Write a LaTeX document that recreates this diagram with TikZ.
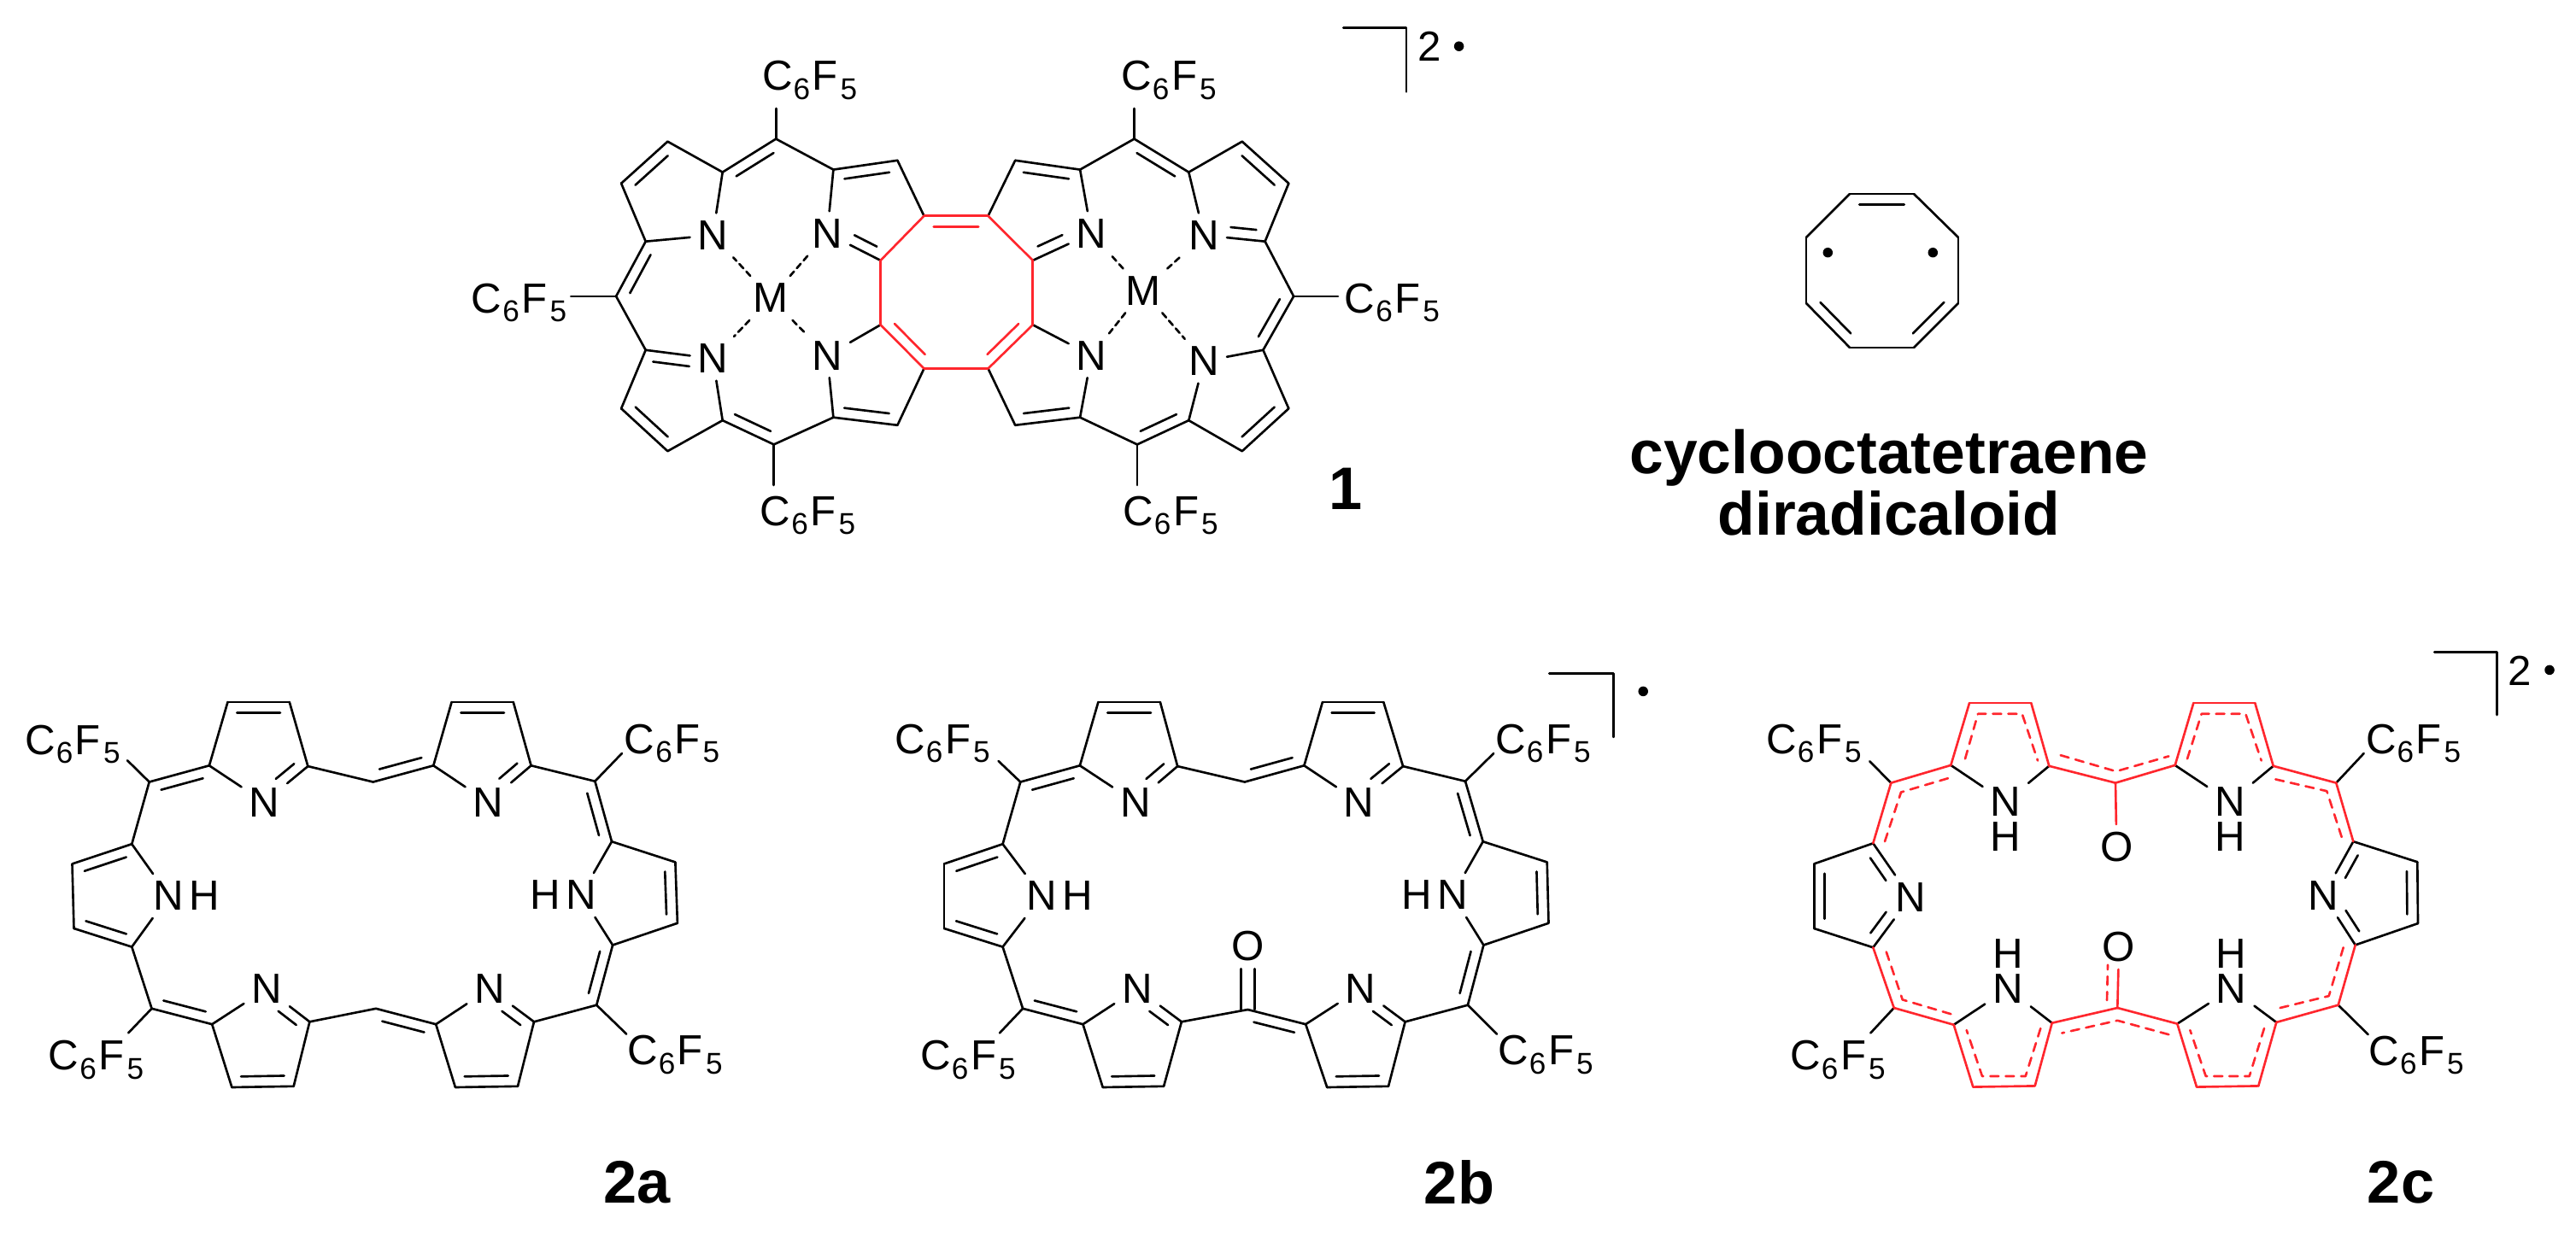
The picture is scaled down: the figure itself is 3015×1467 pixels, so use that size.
\documentclass[tikz,border=0pt]{standalone}
\usepackage{fontspec}
\setmainfont{Liberation Sans}
\usetikzlibrary{calc,positioning}
\definecolor{bondred}{RGB}{255,38,45}
\newcommand{\subfont}{\fontsize{10}{12}\selectfont}
\newcommand{\pfp}{C\kern.02em\raisebox{-.21em}{\subfont 6}\kern.05em F\kern.06em\raisebox{-.21em}{\subfont 5}}
% inner line of a double bond, on the left of the way from #2 to #3
\newcommand{\dblin}[5][]{\draw[#1] ($(#2)!#4!(#3)!.125cm!90:(#3)$) -- ($(#3)!#5!(#2)!.125cm!-90:(#2)$);}
\newcommand{\inb}[3][]{\dblin[#1]{#2}{#3}{.15}{.15}}
\newcommand{\inc}[3][]{\dblin[#1]{#2}{#3}{.16}{.42}}
\newcommand{\inn}[3][]{\dblin[#1]{#2}{#3}{.42}{.16}}
\tikzset{
  atom/.style={inner sep=.09cm,outer sep=0pt,font=\fontsize{14}{16}\selectfont},
  hydro/.style={inner sep=0pt,outer sep=0pt,font=\fontsize{14}{16}\selectfont},
  pfpgroup/.style={inner sep=0pt,outer sep=0pt,font=\fontsize{14}{16}\selectfont},
  compound/.style={inner sep=0pt,outer sep=0pt,font=\fontsize{20}{21}\selectfont\bfseries},
  title/.style={inner sep=0pt,outer sep=0pt,align=center,font=\fontsize{20.3}{20.4}\selectfont\bfseries},
  radical/.style={circle,fill=black,inner sep=0pt,minimum size=.115cm},
  redb/.style={draw=bondred},
  reddash/.style={draw=bondred,dash pattern=on .1cm off .08cm},
  dative/.style={dash pattern=on .07cm off .05cm},
  carbonyl/.style={transform canvas={xshift=#1}}
}
\begin{document}
\begin{tikzpicture}[x=.01cm,y=-.01cm,line width=.75pt,line cap=round,line join=round]
  \useasboundingbox (0,0) rectangle (3015,1467);
  % compound 1
  \path
    (727.1,214.7) coordinate (p1)
    (781.4,165.7) coordinate (p2)
    (845.7,201.6) coordinate (p3)
    (908.2,162.6) coordinate (p4)
    (975.4,198.6) coordinate (p5)
    (1050.4,187.8) coordinate (p6)
    (1081.5,252.8) coordinate (p7)
    (1156.5,252.8) coordinate (p8)
    (1188.2,187.8) coordinate (p9)
    (1264.1,198.6) coordinate (p10)
    (1327.5,162.6) coordinate (p11)
    (1391.3,201.6) coordinate (p12)
    (1453.8,165.7) coordinate (p13)
    (1508.3,214.7) coordinate (p14)
    (1480.6,282.7) coordinate (p15)
    (1514.1,346.9) coordinate (p16)
    (1478.4,409.8) coordinate (p17)
    (1508.3,478.3) coordinate (p18)
    (1453.8,528.2) coordinate (p19)
    (1391.3,492.2) coordinate (p20)
    (1331,520.4) coordinate (p21)
    (1264.1,488.7) coordinate (p22)
    (1188.2,497.8) coordinate (p23)
    (1156.5,431.5) coordinate (p24)
    (1081.5,431.5) coordinate (p25)
    (1050.4,497.8) coordinate (p26)
    (975.4,488.7) coordinate (p27)
    (905.7,520.4) coordinate (p28)
    (845.7,492.2) coordinate (p29)
    (781.4,528.2) coordinate (p30)
    (727.1,478.3) coordinate (p31)
    (755.7,409.8) coordinate (p32)
    (721.1,346.9) coordinate (p33)
    (755.7,282.7) coordinate (p34)
    (1030.6,304.9) coordinate (p35)
    (1030.6,380.3) coordinate (p36)
    (1208.8,304.9) coordinate (p37)
    (1208.8,380.3) coordinate (p38)
    (908.2,127) coordinate (pe1)
    (1327.5,127) coordinate (pe2)
    (1566,346.9) coordinate (pe3)
    (1331,568) coordinate (pe4)
    (905.7,568) coordinate (pe5)
    (668.2,346.9) coordinate (pe6);
  \node[atom] (pn1) at (834.3,275.4) {N};
  \node[atom] (pn2) at (968.2,273.2) {N};
  \node[atom] (pn3) at (1277.5,273.2) {N};
  \node[atom] (pn4) at (1409.2,275.4) {N};
  \node[atom] (pn5) at (1409.2,422.8) {N};
  \node[atom] (pn6) at (1277.5,416.3) {N};
  \node[atom] (pn7) at (968.2,416.3) {N};
  \node[atom] (pn8) at (834.3,419.8) {N};
  \node[atom] (pm1) at (902.1,349) {M};
  \node[atom] (pm2) at (1337.8,340.4) {M};
  \node[pfpgroup] (pr1) at (947.6,94) {\pfp};
  \node[pfpgroup] (pr2) at (1368,94) {\pfp};
  \node[pfpgroup] (pr3) at (1629.3,354.5) {\pfp};
  \node[pfpgroup] (pr4) at (1370,603.5) {\pfp};
  \node[pfpgroup] (pr5) at (945.5,603.5) {\pfp};
  \node[pfpgroup] (pr6) at (607.5,354.5) {\pfp};
  \begin{scope}[-]
    \draw (p1) to (p2);
    \draw (p2) to (p3);
    \draw (p3) to (p4);
    \draw (p4) to (p5);
    \draw (p5) to (p6);
    \draw (p6) to (p7);
    \draw (p8) to (p9);
    \draw (p9) to (p10);
    \draw (p10) to (p11);
    \draw (p11) to (p12);
    \draw (p12) to (p13);
    \draw (p13) to (p14);
    \draw (p14) to (p15);
    \draw (p15) to (p16);
    \draw (p16) to (p17);
    \draw (p17) to (p18);
    \draw (p18) to (p19);
    \draw (p19) to (p20);
    \draw (p20) to (p21);
    \draw (p21) to (p22);
    \draw (p22) to (p23);
    \draw (p23) to (p24);
    \draw (p25) to (p26);
    \draw (p26) to (p27);
    \draw (p27) to (p28);
    \draw (p28) to (p29);
    \draw (p29) to (p30);
    \draw (p30) to (p31);
    \draw (p31) to (p32);
    \draw (p32) to (p33);
    \draw (p33) to (p34);
    \draw (p34) to (p1);
    \draw (p34) to (pn1);
    \draw (p3) to (pn1);
    \draw (p5) to (pn2);
    \draw (p35) to (pn2);
    \draw (p37) to (pn3);
    \draw (p10) to (pn3);
    \draw (p12) to (pn4);
    \draw (p15) to (pn4);
    \draw (p17) to (pn5);
    \draw (p20) to (pn5);
    \draw (p38) to (pn6);
    \draw (p22) to (pn6);
    \draw (p36) to (pn7);
    \draw (p27) to (pn7);
    \draw (p29) to (pn8);
    \draw (p32) to (pn8);
    \draw (p4) to (pe1);
    \draw (p11) to (pe2);
    \draw (p16) to (pe3);
    \draw (p21) to (pe4);
    \draw (p28) to (pe5);
    \draw (p33) to (pe6);
    \draw[dative] (pm1) to (pn1);
    \draw[dative] (pm1) to (pn2);
    \draw[dative] (pm1) to (pn7);
    \draw[dative] (pm1) to (pn8);
    \draw[dative] (pm2) to (pn3);
    \draw[dative] (pm2) to (pn4);
    \draw[dative] (pm2) to (pn5);
    \draw[dative] (pm2) to (pn6);
    \inb{p2}{p1}
    \inb{p4}{p3}
    \inb{p6}{p5}
    \inb{p10}{p9}
    \inb{p12}{p11}
    \inb{p14}{p13}
    \inb{p17}{p16}
    \inb{p19}{p18}
    \inb{p21}{p20}
    \inb{p23}{p22}
    \inb{p27}{p26}
    \inb{p29}{p28}
    \inb{p31}{p30}
    \inb{p34}{p33}
    \inn{pn2}{p35}
    \inc{p37}{pn3}
    \inn{pn4}{p15}
    \dblin{pn8}{p32}{.33}{.13}
  \end{scope}
  \begin{scope}[redb]
    \draw (p7) to (p8);
    \draw (p8) to (p37);
    \draw (p37) to (p38);
    \draw (p38) to (p24);
    \draw (p24) to (p25);
    \draw (p25) to (p36);
    \draw (p36) to (p35);
    \draw (p35) to (p7);
    \inb[redb]{p8}{p7}
    \inb[redb]{p36}{p25}
    \inb[redb]{p24}{p38}
  \end{scope}
  \draw (1572.3,32.5) coordinate (pb1) -- (1646,32.5) coordinate (pb2) -- (1646,107.5) coordinate (pb3);
  \node[hydro] (pc) at (1672.8,54.2) {2};
  \node[radical] (pd) at (1707.6,54.2) {};
  \node[compound] (lab1) at (1575,572) {1};
  % cyclooctatetraene diradicaloid
  \path
    (2165,227) coordinate (o1)
    (2240,227) coordinate (o2)
    (2292,278) coordinate (o3)
    (2292,355) coordinate (o4)
    (2240,407) coordinate (o5)
    (2165,407) coordinate (o6)
    (2114,355) coordinate (o7)
    (2114,278) coordinate (o8);
  \begin{scope}[-]
    \draw (o1) to (o2);
    \draw (o2) to (o3);
    \draw (o3) to (o4);
    \draw (o4) to (o5);
    \draw (o5) to (o6);
    \draw (o6) to (o7);
    \draw (o7) to (o8);
    \draw (o8) to (o1);
    \inb{o2}{o1}
    \inb{o7}{o6}
    \inb{o5}{o4}
  \end{scope}
  \node[radical] (od1) at (2139.3,295.7) {};
  \node[radical] (od2) at (2262.3,295.7) {};
  \node[title] (labo) at (2211,565) {cyclooctatetraene\\diradicaloid};
  % compound 2a
  \path
    (174.7,915.5) coordinate (a1)
    (244.9,896.3) coordinate (a2)
    (266.5,822) coordinate (a3)
    (338.8,822) coordinate (a4)
    (360.4,897.1) coordinate (a5)
    (436.7,915.5) coordinate (a6)
    (507.3,896.3) coordinate (a7)
    (528.6,822) coordinate (a8)
    (600.8,822) coordinate (a9)
    (621.6,896.3) coordinate (a10)
    (696.4,914.7) coordinate (a11)
    (716,985.3) coordinate (a12)
    (790.4,1009.4) coordinate (a13)
    (792.9,1080.8) coordinate (a14)
    (717.1,1106.5) coordinate (a15)
    (698.2,1176.7) coordinate (a16)
    (625,1196.3) coordinate (a17)
    (606,1271.8) coordinate (a18)
    (532.9,1273) coordinate (a19)
    (510.2,1199.2) coordinate (a20)
    (440,1180.8) coordinate (a21)
    (362.4,1196.3) coordinate (a22)
    (343.7,1271.8) coordinate (a23)
    (271.4,1273) coordinate (a24)
    (248.2,1199.2) coordinate (a25)
    (177.6,1180.8) coordinate (a26)
    (154.3,1108.6) coordinate (a27)
    (86.5,1087) coordinate (a28)
    (84.5,1011.4) coordinate (a29)
    (154.3,988.2) coordinate (a30)
    (149,890.2) coordinate (ae1)
    (727.9,882) coordinate (ae2)
    (733.2,1210.6) coordinate (ae3)
    (150.2,1209.4) coordinate (ae4);
  \node[atom] (an1) at (309.4,939.2) {N};
  \node[atom] (an2) at (571.4,939.2) {N};
  \node[atom] (an3) at (680,1048) {N};
  \node[atom] (an4) at (573.2,1157.6) {N};
  \node[atom] (an5) at (312.2,1157.6) {N};
  \node[atom] (an6) at (197.5,1049) {N};
  \node[hydro,left=-.03cm of an3] (ah3) {H};
  \node[hydro,right=-.03cm of an6] (ah6) {H};
  \node[pfpgroup] (ar1) at (85,871.5) {\pfp};
  \node[pfpgroup] (ar2) at (786.5,870.5) {\pfp};
  \node[pfpgroup] (ar3) at (790,1235) {\pfp};
  \node[pfpgroup] (ar4) at (112.5,1241) {\pfp};
  \begin{scope}[-]
    \draw (a1) to (a2);
    \draw (a2) to (a3);
    \draw (a3) to (a4);
    \draw (a4) to (a5);
    \draw (a5) to (a6);
    \draw (a6) to (a7);
    \draw (a7) to (a8);
    \draw (a8) to (a9);
    \draw (a9) to (a10);
    \draw (a10) to (a11);
    \draw (a11) to (a12);
    \draw (a12) to (a13);
    \draw (a13) to (a14);
    \draw (a14) to (a15);
    \draw (a15) to (a16);
    \draw (a16) to (a17);
    \draw (a17) to (a18);
    \draw (a18) to (a19);
    \draw (a19) to (a20);
    \draw (a20) to (a21);
    \draw (a21) to (a22);
    \draw (a22) to (a23);
    \draw (a23) to (a24);
    \draw (a24) to (a25);
    \draw (a25) to (a26);
    \draw (a26) to (a27);
    \draw (a27) to (a28);
    \draw (a28) to (a29);
    \draw (a29) to (a30);
    \draw (a30) to (a1);
    \draw (a2) to (an1);
    \draw (a5) to (an1);
    \draw (a7) to (an2);
    \draw (a10) to (an2);
    \draw (a12) to (an3);
    \draw (a15) to (an3);
    \draw (a17) to (an4);
    \draw (a20) to (an4);
    \draw (a22) to (an5);
    \draw (a25) to (an5);
    \draw (a27) to (an6);
    \draw (a30) to (an6);
    \draw (a1) to (ae1);
    \draw (a11) to (ae2);
    \draw (a16) to (ae3);
    \draw (a26) to (ae4);
    \inb{a2}{a1}
    \inb{a4}{a3}
    \inb{a6}{a7}
    \inb{a9}{a8}
    \inb{a12}{a11}
    \inb{a14}{a13}
    \inb{a16}{a15}
    \inb{a19}{a18}
    \inb{a20}{a21}
    \inb{a24}{a23}
    \inb{a26}{a25}
    \inb{a28}{a27}
    \inb{a30}{a29}
    \inn{an1}{a5}
    \inn{an2}{a10}
    \inc{a17}{an4}
    \inc{a22}{an5}
  \end{scope}
  \node[compound] (lab2a) at (746,1384) {2a};
  % compound 2b
  \path
    (1194.3,915.5) coordinate (b1)
    (1263.9,896.3) coordinate (b2)
    (1285.4,822) coordinate (b3)
    (1357.9,822) coordinate (b4)
    (1378.2,897.1) coordinate (b5)
    (1456.8,915.5) coordinate (b6)
    (1526.4,896.3) coordinate (b7)
    (1547.9,822) coordinate (b8)
    (1619.3,822) coordinate (b9)
    (1642.1,897.1) coordinate (b10)
    (1715,914.7) coordinate (b11)
    (1735.7,985.3) coordinate (b12)
    (1810.7,1009.4) coordinate (b13)
    (1812.5,1080.8) coordinate (b14)
    (1736.4,1106.5) coordinate (b15)
    (1717.9,1176.7) coordinate (b16)
    (1644.6,1196.3) coordinate (b17)
    (1625,1271.8) coordinate (b18)
    (1553.2,1273) coordinate (b19)
    (1528.2,1199.2) coordinate (b20)
    (1460.4,1182) coordinate (b21)
    (1382.9,1196.3) coordinate (b22)
    (1362.1,1271.8) coordinate (b23)
    (1290.7,1273) coordinate (b24)
    (1267.5,1199.2) coordinate (b25)
    (1197.1,1180.8) coordinate (b26)
    (1173.6,1108.6) coordinate (b27)
    (1105,1087) coordinate (b28)
    (1105,1011.4) coordinate (b29)
    (1173.6,988.2) coordinate (b30)
    (1168.6,891) coordinate (be1)
    (1748.2,882) coordinate (be2)
    (1751.8,1210.6) coordinate (be3)
    (1170,1209.4) coordinate (be4);
  \node[atom] (bn1) at (1328.9,939.2) {N};
  \node[atom] (bn2) at (1590.7,939.2) {N};
  \node[atom] (bn3) at (1700,1048) {N};
  \node[atom] (bn4) at (1592.5,1157.6) {N};
  \node[atom] (bn5) at (1331,1157.6) {N};
  \node[atom] (bn6) at (1219.3,1049) {N};
  \node[atom] (bo) at (1460.4,1107.8) {O};
  \node[hydro,left=-.03cm of bn3] (bh3) {H};
  \node[hydro,right=-.03cm of bn6] (bh6) {H};
  \node[pfpgroup] (br1) at (1103,870.5) {\pfp};
  \node[pfpgroup] (br2) at (1806,870.5) {\pfp};
  \node[pfpgroup] (br3) at (1809,1235) {\pfp};
  \node[pfpgroup] (br4) at (1133,1241) {\pfp};
  \begin{scope}[-]
    \draw (b1) to (b2);
    \draw (b2) to (b3);
    \draw (b3) to (b4);
    \draw (b4) to (b5);
    \draw (b5) to (b6);
    \draw (b6) to (b7);
    \draw (b7) to (b8);
    \draw (b8) to (b9);
    \draw (b9) to (b10);
    \draw (b10) to (b11);
    \draw (b11) to (b12);
    \draw (b12) to (b13);
    \draw (b13) to (b14);
    \draw (b14) to (b15);
    \draw (b15) to (b16);
    \draw (b16) to (b17);
    \draw (b17) to (b18);
    \draw (b18) to (b19);
    \draw (b19) to (b20);
    \draw (b20) to (b21);
    \draw (b21) to (b22);
    \draw (b22) to (b23);
    \draw (b23) to (b24);
    \draw (b24) to (b25);
    \draw (b25) to (b26);
    \draw (b26) to (b27);
    \draw (b27) to (b28);
    \draw (b28) to (b29);
    \draw (b29) to (b30);
    \draw (b30) to (b1);
    \draw (b2) to (bn1);
    \draw (b5) to (bn1);
    \draw (b7) to (bn2);
    \draw (b10) to (bn2);
    \draw (b12) to (bn3);
    \draw (b15) to (bn3);
    \draw (b17) to (bn4);
    \draw (b20) to (bn4);
    \draw (b22) to (bn5);
    \draw (b25) to (bn5);
    \draw (b27) to (bn6);
    \draw (b30) to (bn6);
    \draw (b1) to (be1);
    \draw (b11) to (be2);
    \draw (b16) to (be3);
    \draw (b26) to (be4);
    \draw[carbonyl=-.078cm] (b21) to (bo);
    \draw[carbonyl=.078cm] (b21) to (bo);
    \inb{b2}{b1}
    \inb{b4}{b3}
    \inb{b6}{b7}
    \inb{b9}{b8}
    \inb{b12}{b11}
    \inb{b14}{b13}
    \inb{b16}{b15}
    \inb{b19}{b18}
    \inb{b20}{b21}
    \inb{b24}{b23}
    \inb{b26}{b25}
    \inb{b28}{b27}
    \inb{b30}{b29}
    \inn{bn1}{b5}
    \inn{bn2}{b10}
    \inc{b17}{bn4}
    \inc{b22}{bn5}
  \end{scope}
  \draw (1813.2,788.2) coordinate (bb1) -- (1888.6,788.2) coordinate (bb2) -- (1888.6,862.9) coordinate (bb3);
  \node[radical] (bd) at (1923.2,809.4) {};
  \node[compound] (lab2b) at (1708,1384) {2b};
  % compound 2c
  \path
    (2213.3,916.6) coordinate (c1)
    (2283.3,895.9) coordinate (c2)
    (2305,823.1) coordinate (c3)
    (2377.3,823.1) coordinate (c4)
    (2398.3,896.8) coordinate (c5)
    (2476,916.6) coordinate (c6)
    (2545.7,895.9) coordinate (c7)
    (2567.3,823.1) coordinate (c8)
    (2639.3,823.1) coordinate (c9)
    (2660.7,896.8) coordinate (c10)
    (2734.3,916.6) coordinate (c11)
    (2754.3,985.2) coordinate (c12)
    (2829.3,1009.2) coordinate (c13)
    (2830,1081.1) coordinate (c14)
    (2756.7,1106.4) coordinate (c15)
    (2736.7,1176.7) coordinate (c16)
    (2664.3,1196.9) coordinate (c17)
    (2643.3,1271.4) coordinate (c18)
    (2571,1272.6) coordinate (c19)
    (2548.3,1198.6) coordinate (c20)
    (2478.3,1180) coordinate (c21)
    (2401.7,1197.7) coordinate (c22)
    (2381.7,1271.4) coordinate (c23)
    (2309.3,1272.6) coordinate (c24)
    (2286.7,1199.8) coordinate (c25)
    (2216.7,1180) coordinate (c26)
    (2192.3,1109.3) coordinate (c27)
    (2123.2,1087) coordinate (c28)
    (2123.2,1011.4) coordinate (c29)
    (2192.3,987.3) coordinate (c30)
    (2188.3,891.3) coordinate (ce1)
    (2766.7,882) coordinate (ce2)
    (2771.7,1211.2) coordinate (ce3)
    (2189.3,1209.5) coordinate (ce4);
  \node[atom] (cn1) at (2347.3,938.9) {N};
  \node[atom] (cn2) at (2610,938.9) {N};
  \node[atom] (cn3) at (2719.3,1048.3) {N};
  \node[atom] (cn4) at (2611.7,1157.7) {N};
  \node[atom] (cn5) at (2350,1157.7) {N};
  \node[atom] (cn6) at (2236,1050.4) {N};
  \node[hydro,below=-.02cm of cn1] (ch1) {H};
  \node[hydro,below=-.02cm of cn2] (ch2) {H};
  \node[hydro,above=-.02cm of cn4] (ch4) {H};
  \node[hydro,above=-.02cm of cn5] (ch5) {H};
  \node[atom] (co1) at (2477.3,991.5) {O};
  \node[atom] (co2) at (2480,1108.5) {O};
  \node[pfpgroup] (cr1) at (2123,870.5) {\pfp};
  \node[pfpgroup] (cr2) at (2824.6,870.4) {\pfp};
  \node[pfpgroup] (cr3) at (2828,1235.5) {\pfp};
  \node[pfpgroup] (cr4) at (2151,1241) {\pfp};
  \begin{scope}[-]
    \draw (c2) to (cn1);
    \draw (c5) to (cn1);
    \draw (c7) to (cn2);
    \draw (c10) to (cn2);
    \draw (c12) to (cn3);
    \draw (c15) to (cn3);
    \draw (c17) to (cn4);
    \draw (c20) to (cn4);
    \draw (c22) to (cn5);
    \draw (c25) to (cn5);
    \draw (c27) to (cn6);
    \draw (c30) to (cn6);
    \draw (c12) to (c13);
    \draw (c13) to (c14);
    \draw (c14) to (c15);
    \draw (c27) to (c28);
    \draw (c28) to (c29);
    \draw (c29) to (c30);
    \draw (c1) to (ce1);
    \draw (c11) to (ce2);
    \draw (c16) to (ce3);
    \draw (c26) to (ce4);
    \inb{c14}{c13}
    \inb{c29}{c28}
    \inc{c12}{cn3}
    \inn{cn3}{c15}
    \inn{cn6}{c30}
    \inc{c27}{cn6}
  \end{scope}
  \begin{scope}[redb]
    \draw (c1) to (c2);
    \draw (c2) to (c3);
    \draw (c3) to (c4);
    \draw (c4) to (c5);
    \draw (c5) to (c6);
    \draw (c6) to (c7);
    \draw (c7) to (c8);
    \draw (c8) to (c9);
    \draw (c9) to (c10);
    \draw (c10) to (c11);
    \draw (c11) to (c12);
    \draw (c15) to (c16);
    \draw (c16) to (c17);
    \draw (c17) to (c18);
    \draw (c18) to (c19);
    \draw (c19) to (c20);
    \draw (c20) to (c21);
    \draw (c21) to (c22);
    \draw (c22) to (c23);
    \draw (c23) to (c24);
    \draw (c24) to (c25);
    \draw (c25) to (c26);
    \draw (c26) to (c27);
    \draw (c30) to (c1);
    \draw (c6) to (co1);
    \draw (c21) to (co2);
    \dblin[reddash]{c21}{co2}{.12}{.3}
  \end{scope}
  % dashed lines of the delocalised path
  \begin{scope}[reddash]
    \draw (2206,985.2) -- (2225,927.5) -- (2281.7,910.7);
    \draw (2300,888.4) -- (2315,835.8) -- (2366.7,835.8) -- (2385,890.5);
    \draw (2411.7,884.2) -- (2476.7,903.1) -- (2538.3,885.4);
    \draw (2560,888.4) -- (2576.7,835.8) -- (2628.3,835.8) -- (2646.7,890.5);
    \draw (2663.3,912.4) -- (2723.3,926.2) -- (2741.7,983.1);
    \draw (2742.7,1109.3) -- (2725.7,1166.1) -- (2665,1180.9);
    \draw (2650,1204) -- (2632.7,1260) -- (2581.7,1260) -- (2563.3,1206.1);
    \draw (2538.3,1211.2) -- (2478.3,1194.8) -- (2413.3,1209.5);
    \draw (2388.3,1204) -- (2370.7,1260) -- (2320,1260) -- (2301.7,1206.1);
    \draw (2283.3,1187.2) -- (2226.7,1170.4) -- (2206.7,1111.4);
  \end{scope}
  \draw (2849.3,763.4) coordinate (cb1) -- (2922.3,763.4) coordinate (cb2) -- (2922.3,837) coordinate (cb3);
  \node[hydro] (cc) at (2949,785) {2};
  \node[radical] (cd) at (2984,784.4) {};
  \node[compound] (lab2c) at (2810,1384) {2c};
\end{tikzpicture}
\end{document}
